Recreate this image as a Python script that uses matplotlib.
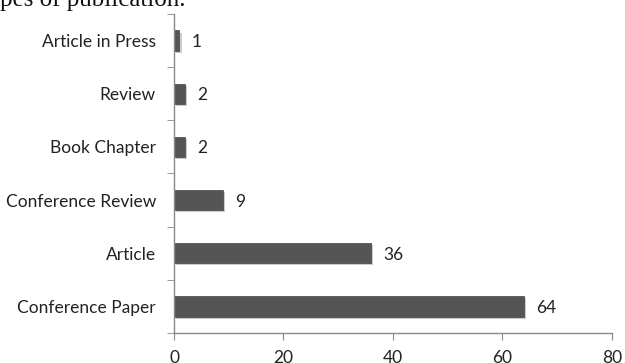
import matplotlib.pyplot as plt
import matplotlib.patheffects as pe
import numpy as np

# publication types, bottom to top
categories = ['Conference Paper', 'Article', 'Conference Review', 'Book Chapter', 'Review', 'Article in Press']
counts = [64, 36, 9, 2, 2, 1]
x_ticks = [0, 20, 40, 60, 80]

plt.rcParams['font.family'] = ['Lato', 'DejaVu Sans']

fig = plt.figure(figsize=(6.25, 3.63), dpi=100)
ax = fig.add_axes([0.2784, 0.0826, 0.7006, 0.879])

y = np.arange(len(categories))
bars = ax.barh(y, counts, height=0.38, color='#555555', edgecolor='#444444', linewidth=0.5,
               path_effects=[pe.SimplePatchShadow(offset=(1.5, -1.5), shadow_rgbFace='#999999', alpha=0.5), pe.Normal()])

for yi, v in zip(y, counts):
    ax.text(v + 2.2, yi, str(v), va='center_baseline', ha='left', fontsize=12.5, color='#222222')

ax.set_xlim(0, 80)
ax.set_ylim(-0.5, len(categories) - 0.5)
ax.set_xticks(x_ticks)
ax.set_yticks(y)
ax.set_yticklabels(categories)
ax.set_yticks(np.arange(-0.5, len(categories), 1.0), minor=True)

ax.tick_params(axis='y', which='major', length=0, pad=13, labelsize=12.5, labelcolor='#222222')
ax.tick_params(axis='y', which='minor', length=5, color='#888888', direction='out')
ax.tick_params(axis='x', length=5, color='#888888', direction='out', pad=7, labelsize=12.5, labelcolor='#222222')

for s in ['top', 'right']:
    ax.spines[s].set_visible(False)
for s in ['left', 'bottom']:
    ax.spines[s].set_color('#888888')
    ax.spines[s].set_linewidth(1.0)

# caption line from the surrounding page, clipped by the top edge
fig.text(0.0, 1.0, 'pes of publication.', fontsize=18, family='Liberation Serif',
         ha='left', va='center', color='#111111')

fig.savefig('out.png', dpi=100)
